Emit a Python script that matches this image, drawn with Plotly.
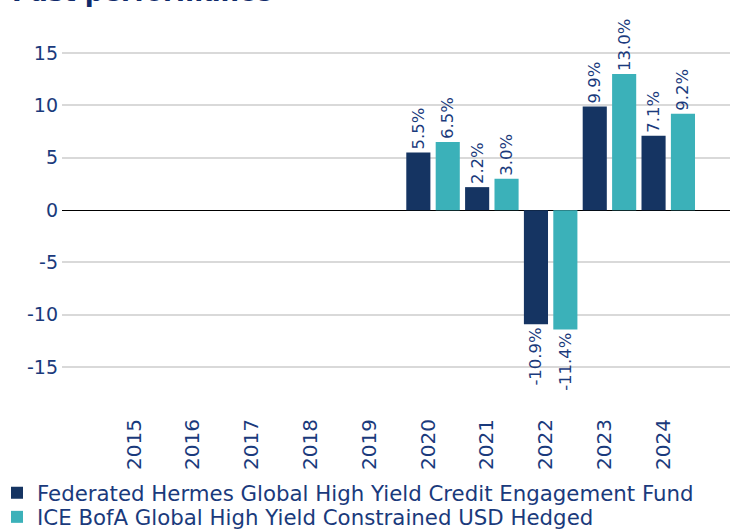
import plotly.graph_objects as go

years = ["2015", "2016", "2017", "2018", "2019", "2020", "2021", "2022", "2023", "2024"]
fund_values = [None, None, None, None, None, 5.5, 2.2, -10.9, 9.9, 7.1]
bench_values = [None, None, None, None, None, 6.5, 3.0, -11.4, 13.0, 9.2]
y_ticks = [15, 10, 5, 0, -5, -10, -15]
fund_name = "Federated Hermes Global High Yield Credit Engagement Fund"
bench_name = "ICE BofA Global High Yield Constrained USD Hedged"
title_text = "Past performance"

NAVY = "#153462"
TEAL = "#3bb1b9"
TEXT = "#1a3a7c"
FONT = "DejaVu Sans, Verdana, sans-serif"


def labels(vals):
    return ["" if v is None else f"{v:.1f}%" for v in vals]


fig = go.Figure()
for name, vals, col, lg in [(fund_name, fund_values, NAVY, "legend"),
                            (bench_name, bench_values, TEAL, "legend2")]:
    fig.add_trace(go.Bar(
        x=years, y=vals, name=name, marker=dict(color=col, line=dict(width=0)),
        text=labels(vals), textposition="outside", textangle=-90,
        constraintext="none", cliponaxis=False, legend=lg,
        textfont=dict(family=FONT, size=16.5, color=TEXT),
    ))

L, R, T, B = 62, 0, 27, 120
W, H = 730, 529
pw = W - L - R
ph = H - T - B


def leg(ycenter):
    return dict(
        orientation="v", xref="paper", yref="container",
        x=(-3 - L) / pw, xanchor="left",
        y=1 - ycenter / H, yanchor="middle",
        font=dict(family=FONT, size=21.3, color=TEXT),
        bgcolor="rgba(0,0,0,0)", itemwidth=30, borderwidth=0,
    )


fig.update_layout(
    width=W, height=H,
    margin=dict(l=L, r=R, t=T, b=B, pad=0, autoexpand=False),
    paper_bgcolor="white", plot_bgcolor="white",
    barmode="group", bargap=0.0, bargroupgap=0.18,
    font=dict(family=FONT, color=TEXT, size=19),
    showlegend=True,
    legend=leg(493),
    legend2=leg(517),
    xaxis=dict(
        type="category", categoryorder="array", categoryarray=years,
        range=[-1.31, 10.05], tickangle=-90, showgrid=False, showline=False,
        ticks="", tickfont=dict(family=FONT, size=20, color=TEXT),
        zeroline=False, automargin=False, ticklabelshift=-5, ticklabelstandoff=5,
    ),
    yaxis=dict(
        range=[-19, 17.5], tickmode="array", tickvals=y_ticks,
        ticktext=[str(v) for v in y_ticks], showgrid=True,
        gridcolor="#d9d9d9", gridwidth=1.5, zeroline=True,
        zerolinecolor="#000000", zerolinewidth=1.2, showline=False, ticks="",
        tickfont=dict(family=FONT, size=19, color=TEXT), automargin=False,
        ticklabelstandoff=3,
    ),
    annotations=[dict(
        text="<b>" + title_text + "</b>", xref="paper", yref="paper",
        x=(10 - L) / pw, y=1 + (T - 9) / ph, xanchor="left", yanchor="bottom",
        showarrow=False, font=dict(family=FONT, size=26, color="#0f2a6a"),
    )],
)

fig.write_html("out.html")
